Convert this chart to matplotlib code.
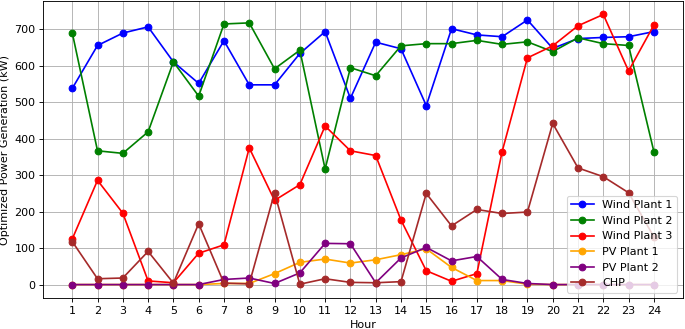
import matplotlib.pyplot as plt

hours = list(range(1, 25))

wind_plant_1 = [538, 656, 690, 707, 611, 552, 669, 548, 548, 634, 694, 511,
                665, 647, 491, 702, 685, 680, 726, 648, 675, 678, 680, 694]
wind_plant_2 = [691, 367, 360, 419, 611, 517, 715, 718, 592, 643, 317, 595,
                573, 655, 661, 661, 670, 659, 666, 639, 677, 661, 656, 365]
wind_plant_3 = [125, 286, 196, 10, 5, 86, 109, 375, 231, 274, 435, 367,
                354, 177, 38, 9, 30, 365, 622, 655, 710, 741, 586, 712]
pv_plant_1 = [0, 0, 0, 0, 0, 0, 3, 3, 30, 61, 70, 59,
              68, 82, 98, 47, 11, 11, 1, 0, 0, 0, 0, 0]
pv_plant_2 = [0, 0, 0, 0, 0, 0, 14, 18, 3, 32, 113, 112,
              5, 73, 102, 65, 77, 14, 3, 0, 0, 0, 0, 0]
chp = [118, 16, 18, 91, 4, 167, 4, 2, 252, 1, 16, 6,
       5, 8, 250, 161, 206, 195, 199, 442, 320, 296, 252, 131]

series = [
    ("Wind Plant 1", wind_plant_1, "blue"),
    ("Wind Plant 2", wind_plant_2, "green"),
    ("Wind Plant 3", wind_plant_3, "red"),
    ("PV Plant 1", pv_plant_1, "orange"),
    ("PV Plant 2", pv_plant_2, "purple"),
    ("CHP", chp, "brown"),
]

plt.figure(figsize=(8.5625, 4.1125), dpi=80)

for name, values, color in series:
    plt.plot(hours, values, marker='o', color=color, label=name)

plt.xticks(hours)
plt.xlabel('Hour')
plt.ylabel('Optimized Power Generation (kW)')
plt.legend(loc='lower right')
plt.grid(True)
plt.subplots_adjust(left=0.063, right=0.997, top=0.997, bottom=0.094)
plt.savefig("out.png")
